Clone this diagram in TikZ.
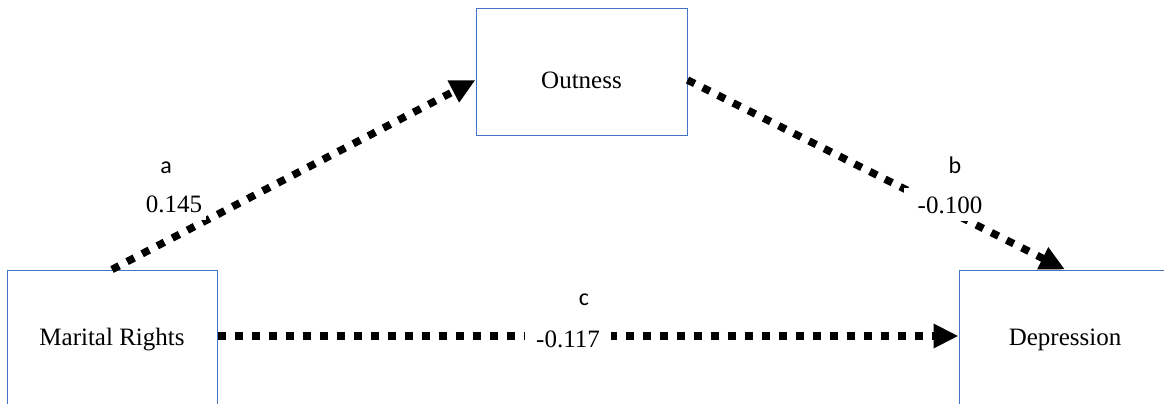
\documentclass[tikz,border=0pt]{standalone}
\usepackage{fontspec}
\setmainfont{Liberation Serif}
\newfontfamily\labfont{Carlito}
\usetikzlibrary{arrows.meta}
\definecolor{boxblue}{HTML}{4472C4}
\begin{document}
\begin{tikzpicture}[x=1pt,y=-1pt,
  box/.style={draw=boxblue, line width=1pt, inner sep=0pt, font=\fontsize{25}{30}\selectfont},
  conn/.style={line width=7.5pt, line cap=butt, dash pattern=on 8pt off 9pt, -{Triangle[length=25pt,width=23pt]}},
  num/.style={font=\fontsize{25}{29}\selectfont, anchor=base, fill=white, inner ysep=8pt},
  letter/.style={font=\labfont\fontsize{24}{28}\selectfont, anchor=base, inner sep=0pt}]
\useasboundingbox (0,0) rectangle (1164,404);
\clip (0,0) rectangle (1164,404);
\fill[white] (0,0) rectangle (1164,404);
% boxes
\node[box, minimum width=210pt, minimum height=140pt] (mr) at (112,340) {Marital Rights};
\node[box, minimum width=211pt, minimum height=126pt, text height=33pt] (out) at (581.5,72) {Outness};
\node[box, minimum width=212pt, minimum height=140pt] (dep) at (1065,340) {Depression};
% connectors
\draw[conn] (mr.north) -- ([yshift=-8pt]out.west);
\draw[conn] ([yshift=-8pt]out.east) -- (dep.north);
\draw[conn] ([yshift=4pt]mr.east) -- ([yshift=4pt]dep.west);
% labels
\node[letter] (la) at (166,173) {a};
\node[num, inner xsep=4pt] (na) at (174,212) {0.145};
\node[letter] (lb) at (955,173) {b};
\node[num, inner xsep=14pt] (nb) at (950,213) {-0.100};
\node[letter] (lc) at (584,305) {c};
\node[num, inner xsep=11pt] (nc) at (568,347) {-0.117};
\end{tikzpicture}
\end{document}
